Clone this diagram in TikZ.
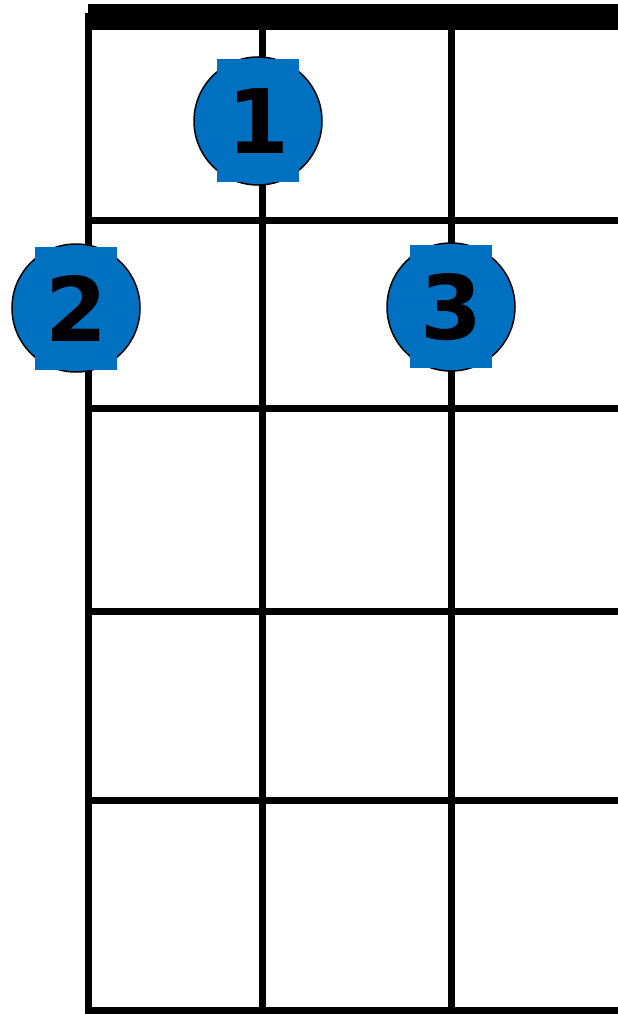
\documentclass[tikz,border=0pt]{standalone}
\usepackage{fontspec}
\newfontfamily\dejab{DejaVu Sans}[BoldFont={DejaVu Sans Bold}]
\definecolor{fblue}{RGB}{0,112,192}
\tikzset{
  gridline/.style={line width=7pt, line cap=butt},
  dot/.style={circle, draw=black, line width=1.5pt, fill=fblue, minimum size=128pt, inner sep=0pt},
  patch/.style={rectangle, fill=fblue, minimum width=82pt, minimum height=123pt, inner sep=0pt},
  num/.style={font=\dejab\bfseries\fontsize{89}{89}\selectfont, text=black, inner sep=0pt}
}
\begin{document}
\begin{tikzpicture}[x=1pt,y=-1pt]
\useasboundingbox (0,0) rectangle (618,1014);
\fill[white] (0,0) rectangle (618,1014);
% nut
\fill[black] (88,4) rectangle (618,30);
% strings
\draw[gridline] (88.5,13) -- (88.5,1014);
\draw[gridline] (262.5,30) -- (262.5,1014);
\draw[gridline] (451,30) -- (451,1014);
% frets
\draw[gridline] (88,220) -- (618,220);
\draw[gridline] (88,408.5) -- (618,408.5);
\draw[gridline] (88,611) -- (618,611);
\draw[gridline] (88,800) -- (618,800);
\draw[gridline] (85,1010.5) -- (618,1010.5);
% finger dots
\node[dot] (c1) at (258,121) {};
\node[patch] (p1) at (258,120.5) {};
\node[num] (n1) at (c1.center) {1};
\node[dot] (c2) at (76,308) {};
\node[patch] (p2) at (76,308.5) {};
\node[num] (n2) at (c2.center) {2};
\node[dot] (c3) at (451,307) {};
\node[patch] (p3) at (451,306.5) {};
\node[num] (n3) at (c3.center) {3};
\end{tikzpicture}
\end{document}
